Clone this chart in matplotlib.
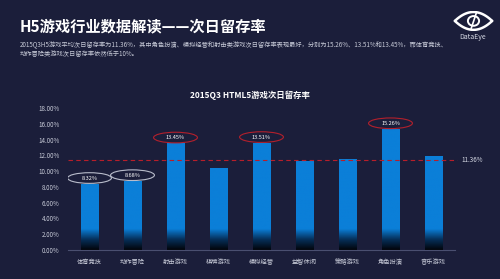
import numpy as np
import matplotlib
matplotlib.use('Agg')
import matplotlib.pyplot as plt
from matplotlib.patches import Ellipse
from matplotlib.colors import LinearSegmentedColormap

plt.rcParams['font.family'] = ['Noto Sans CJK SC', 'DejaVu Sans']

categories = ['体育竞技', '动作冒险', '射击游戏', '棋牌游戏', '模拟经营',
              '益智休闲', '策略游戏', '角色扮演', '音乐游戏']
values = [8.32, 8.68, 13.45, 10.35, 13.51, 11.24, 11.45, 15.26, 11.87]
average = 11.36
# which bars get a circled label: 'red' or 'white'
circled = {0: 'white', 1: 'white', 2: 'red', 4: 'red', 7: 'red'}
yticks = [0, 2, 4, 6, 8, 10, 12, 14, 16, 18]

bg = '#1b1e3a'
blue = '#0b7fd8'

fig = plt.figure(figsize=(5, 2.79), dpi=100)
fig.patch.set_facecolor(bg)

# header
fig.text(0.04, 0.905, 'H5游戏行业数据解读——次日留存率', color='white',
         fontsize=11, fontweight='bold', va='center')
fig.text(0.04, 0.837, '2015Q3H5游戏平均次日留存率为11.36%，其中角色扮演、模拟经营和射击类游戏次日留存率表现最好，分别为15.26%、13.51%和13.45%，而体育竞技、',
         color='#c8cbd8', fontsize=4.5, va='center')
fig.text(0.04, 0.805, '动作冒险类游戏次日留存率依然低于10%。',
         color='#c8cbd8', fontsize=4.5, va='center')

# logo
lax = fig.add_axes([0.906, 0.889, 0.082, 0.072])
lax.set_xlim(-1.1, 1.1)
lax.set_ylim(-0.62, 0.62)
lax.axis('off')
t = np.linspace(-1, 1, 100)
lax.plot(t, 0.55 * (1 - t ** 2), color='white', lw=1.8, solid_capstyle='round')
lax.plot(t, -0.55 * (1 - t ** 2), color='white', lw=1.8, solid_capstyle='round')
lax.add_patch(plt.Circle((0, 0), 0.3, fill=False, color='white', lw=1.4))
lax.plot([-0.12, 0.14], [-0.45, 0.45], color='white', lw=1.2)
fig.text(0.946, 0.867, 'DataEye', color='#d8dbe6', fontsize=5, ha='center', va='center')

ax = fig.add_axes([0.136, 0.104, 0.774, 0.509])
ax.set_facecolor(bg)
x = np.arange(len(categories))
w = 0.4
ax.set_xlim(-0.5, len(categories) - 0.5)
ax.set_ylim(0, 18)

cmap = LinearSegmentedColormap.from_list('fade', ['#02040a', '#06305a', blue, blue])
bars = ax.bar(x, values, width=w, color='none')
for b in bars:
    x0 = b.get_x()
    h = b.get_height()
    # fade to dark over the bottom of each bar
    yy = np.linspace(0, h, 200)
    grad = np.clip(yy / 4.0, 0, 1).reshape(-1, 1)
    ax.imshow(grad, extent=[x0, x0 + w, 0, h], origin='lower', aspect='auto',
              cmap=cmap, vmin=0, vmax=1, zorder=2)

ax.axhline(average, color='#b81e2a', lw=0.8, ls=(0, (4, 3)), zorder=3, xmax=1.005, clip_on=False)
ax.text(len(categories) - 0.5 + 0.15, average, '%.2f%%' % average, color='#d8dbe6',
        fontsize=4.5, va='center', ha='left')

for i, c in circled.items():
    cy = values[i] + 0.8
    ec = '#b3202c' if c == 'red' else '#b8bccb'
    ax.add_patch(Ellipse((x[i], cy), 1.02, 1.35, fill=False, ec=ec, lw=0.8, zorder=4))
    ax.text(x[i], cy, '%.2f%%' % values[i], color='white', fontsize=4,
            ha='center', va='center', zorder=5)

ax.set_yticks(yticks)
ax.set_yticklabels(['%.2f%%' % v for v in yticks])
ax.set_xticks(x)
ax.set_xticklabels(categories)
ax.tick_params(colors='#c8cbd8', labelsize=4.5, length=0, pad=6)
for s in ['top', 'right', 'left']:
    ax.spines[s].set_visible(False)
ax.spines['bottom'].set_color('#4a4f70')
ax.spines['bottom'].set_linewidth(0.8)
fig.text(0.5, 1 - 95 / 279, '2015Q3 HTML5游戏次日留存率', color='white', fontsize=6,
         fontweight='bold', ha='center', va='center')

fig.savefig('out.png', dpi=100, facecolor=bg)
